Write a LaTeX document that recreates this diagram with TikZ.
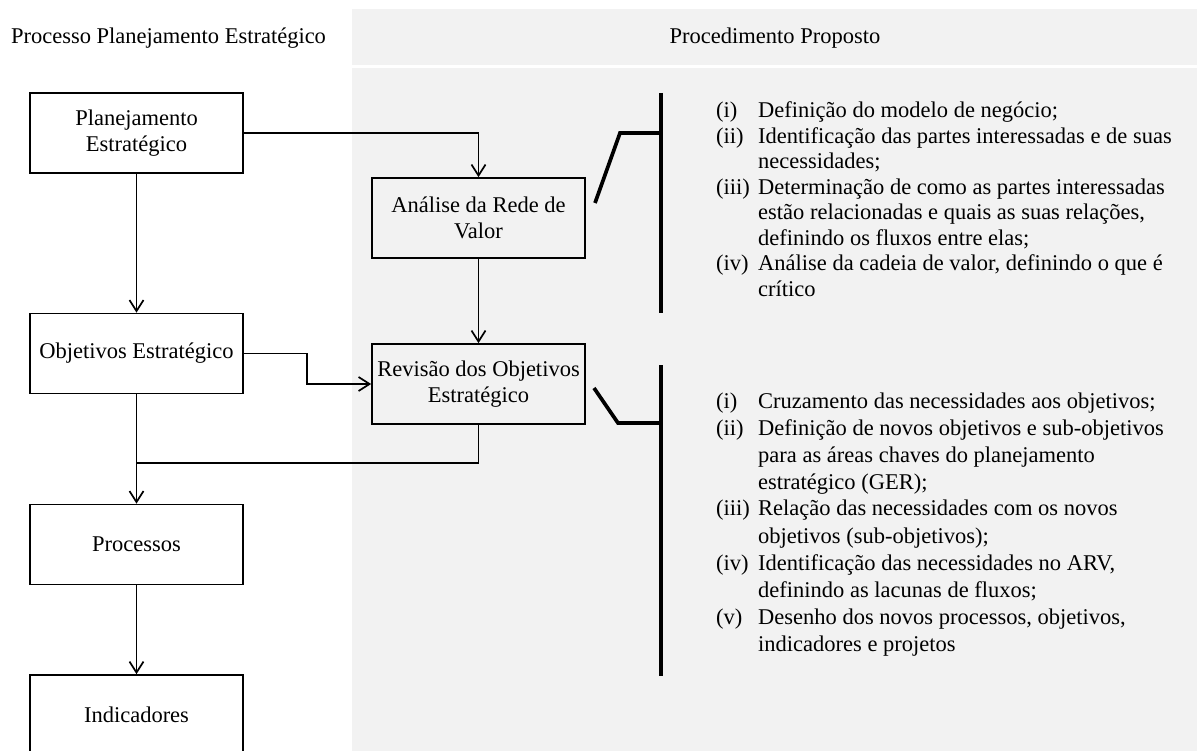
\documentclass[tikz,border=0pt]{standalone}
\usepackage{fontspec}
\setmainfont{Liberation Serif}
\usetikzlibrary{arrows.meta}
\definecolor{panel}{HTML}{F2F2F2}
\begin{document}
\begin{tikzpicture}[x=1pt,y=-1pt,
  box/.style={draw=black, line width=1.7pt, minimum width=213pt, minimum height=80pt, inner sep=0pt, align=center, font=\fontsize{22.5}{26}\selectfont},
  conn/.style={line width=1.7pt, -{Straight Barb[length=11pt,width=14pt]}},
  link/.style={line width=1.7pt},
  brk/.style={line width=3.7pt},
  head/.style={font=\fontsize{22.5}{26}\selectfont, inner sep=0pt},
  listA/.style={font=\fontsize{22.5}{25.5}\selectfont, inner sep=0pt, anchor=base west},
  listB/.style={font=\fontsize{22.5}{27}\selectfont, inner sep=0pt, anchor=base west}
]
\useasboundingbox (0,0) rectangle (1197,751);
\clip (0,0) rectangle (1197,751);
% panels
\fill[panel] (352,9) rectangle (1197,65);
\fill[panel] (352,68) rectangle (1197,751);
% headers
\node[head] (h1) at (168.5,38) {Processo Planejamento Estratégico};
\node[head] (h2) at (775,38) {Procedimento Proposto};
% boxes
\node[box] (plan) at (136.5,133) {Planejamento\\Estratégico};
\node[box] (obj) at (136.5,353.5) {Objetivos Estratégico};
\node[box] (proc) at (136.5,544.5) {Processos};
\node[box] (ind) at (136.5,715) {Indicadores};
\node[box] (arv) at (478.5,218) {Análise da Rede de\\Valor};
\node[box] (rev) at (478.5,384) {Revisão dos Objetivos\\Estratégico};
% connectors
\draw[conn] (plan.east) -| (arv.north);
\draw[conn] (plan.south) -- (obj.north);
\coordinate (bend) at (307,353.5);
\draw[conn] (obj.east) -- (bend) |- (rev.west);
\draw[conn] (arv.south) -- (rev.north);
\coordinate (join) at (136.5,463);
\draw[link] (rev.south) |- (join);
\draw[conn] (obj.south) -- (proc.north);
\draw[conn] (proc.south) -- (ind.north);
% brackets
\draw[brk] (661,93) -- (661,313);
\draw[brk] (595,203) -- (620,133) -- (661,133);
\draw[brk] (661,365) -- (661,676);
\draw[brk] (594,388) -- (618,423) -- (661,423);
% lists
\node[listA] (list1) at (716,118) {\begin{tabular}[t]{@{}p{42pt}@{}l@{}}
(i) & Definição do modelo de negócio;\\
(ii) & Identificação das partes interessadas e de suas\\
 & necessidades;\\
(iii) & Determinação de como as partes interessadas\\
 & estão relacionadas e quais as suas relações,\\
 & definindo os fluxos entre elas;\\
(iv) & Análise da cadeia de valor, definindo o que é\\
 & crítico
\end{tabular}};
\node[listB] (list2) at (716,408) {\begin{tabular}[t]{@{}p{42pt}@{}l@{}}
(i) & Cruzamento das necessidades aos objetivos;\\
(ii) & Definição de novos objetivos e sub-objetivos\\
 & para as áreas chaves do planejamento\\
 & estratégico (GER);\\
(iii) & Relação das necessidades com os novos\\
 & objetivos (sub-objetivos);\\
(iv) & Identificação das necessidades no ARV,\\
 & definindo as lacunas de fluxos;\\
(v) & Desenho dos novos processos, objetivos,\\
 & indicadores e projetos
\end{tabular}};
\end{tikzpicture}
\end{document}
